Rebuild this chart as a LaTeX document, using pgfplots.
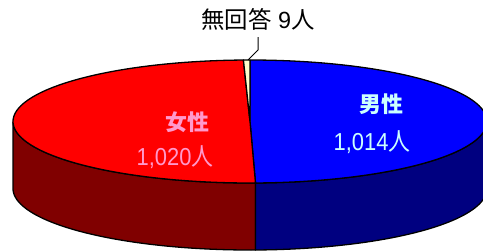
\documentclass[border=0pt]{standalone}
\usepackage{pgfplots}
\pgfplotsset{compat=1.18}
\usepackage{fontspec}
\setmainfont{Liberation Sans}
\newfontfamily\cjk{Noto Sans CJK JP}
\definecolor{cRed}{HTML}{FF0000}
\definecolor{cRedD}{HTML}{800000}
\definecolor{cBlue}{HTML}{0000FF}
\definecolor{cBlueD}{HTML}{000080}
\definecolor{cYel}{HTML}{FFFFCC}
\definecolor{cPink}{HTML}{FF99CC}
\definecolor{cCyan}{HTML}{CCFFFF}
% data (persons)
\def\vMale{1014}
\def\vFemale{1020}
\def\vNone{9}
\pgfmathsetmacro\T{\vMale+\vFemale+\vNone}
\pgfmathsetmacro\aA{90}
\pgfmathsetmacro\aB{\aA-(360/\T)*\vMale}
\pgfmathsetmacro\aC{\aB-(360/\T)*\vFemale}
\pgfmathsetmacro\aD{\aC-(360/\T)*\vNone}
\def\cx{250}
\def\cy{129.5}
\def\rx{237}
\def\ry{61.5}
\def\dep{67}
\begin{document}
\begin{tikzpicture}
\begin{axis}[
  x=1bp, y=1bp,
  xmin=0, xmax=483, ymin=0, ymax=251,
  hide axis,
  declare function={
    sa(\t,\a,\b)=(\t<100.5) ? (\a+(\b-\a)*\t/100) : ((\t<201.5) ? (\b+(\a-\b)*(\t-101)/100) : \a);
    sy(\t)=(\t<100.5) ? 0 : ((\t<201.5) ? -\dep : 0);
    ta(\t,\a,\b)=\a+(\b-\a)*min(max(\t,0),100)/100;
    tr(\t)=(\t>-0.5)*(\t<100.5);
  },
  every axis plot/.append style={line width=1.3bp, line join=round, draw=black},
]
% side faces
\addplot[fill=cRedD, domain=0:202, samples=203, variable=\t]
  ({\cx+\rx*cos(sa(\t,-180,\aB))}, {\cy+\ry*sin(sa(\t,-180,\aB))+sy(\t)});
\addplot[fill=cBlueD, domain=0:202, samples=203, variable=\t]
  ({\cx+\rx*cos(sa(\t,\aB,0))}, {\cy+\ry*sin(sa(\t,\aB,0))+sy(\t)});
% top sectors
\addplot[fill=cBlue, domain=-1:101, samples=103, variable=\t]
  ({\cx+tr(\t)*\rx*cos(ta(\t,\aA,\aB))}, {\cy+tr(\t)*\ry*sin(ta(\t,\aA,\aB))});
\addplot[fill=cRed, domain=-1:101, samples=103, variable=\t]
  ({\cx+tr(\t)*\rx*cos(ta(\t,\aB,\aC))}, {\cy+tr(\t)*\ry*sin(ta(\t,\aB,\aC))});
\addplot[fill=cYel, domain=-1:101, samples=103, variable=\t]
  ({\cx+tr(\t)*\rx*cos(ta(\t,\aC,\aD))}, {\cy+tr(\t)*\ry*sin(ta(\t,\aC,\aD))});
% leader line
\addplot[line width=1bp, no marks] coordinates {(248,191) (258,201) (258,214)};
% labels
\node[font=\fontsize{23.5}{25}\selectfont] at (axis cs:258,232) {{\cjk 無回答} 9{\cjk 人}};
\node[font=\fontsize{22}{24}\selectfont\bfseries, text=cPink] at (axis cs:187,129) {\cjk 女性};
\node[font=\fontsize{22}{24}\selectfont, text=cPink] at (axis cs:175,94) {\scalebox{1}[1.12]{1,020{\cjk 人}}};
\node[font=\fontsize{22}{24}\selectfont\bfseries, text=cCyan] at (axis cs:381,147) {\cjk 男性};
\node[font=\fontsize{22}{24}\selectfont, text=cCyan] at (axis cs:372,109) {\scalebox{1}[1.12]{1,014{\cjk 人}}};
\end{axis}
\pgfresetboundingbox
\useasboundingbox (current axis.south west) rectangle (current axis.north east);
\end{tikzpicture}
\end{document}
